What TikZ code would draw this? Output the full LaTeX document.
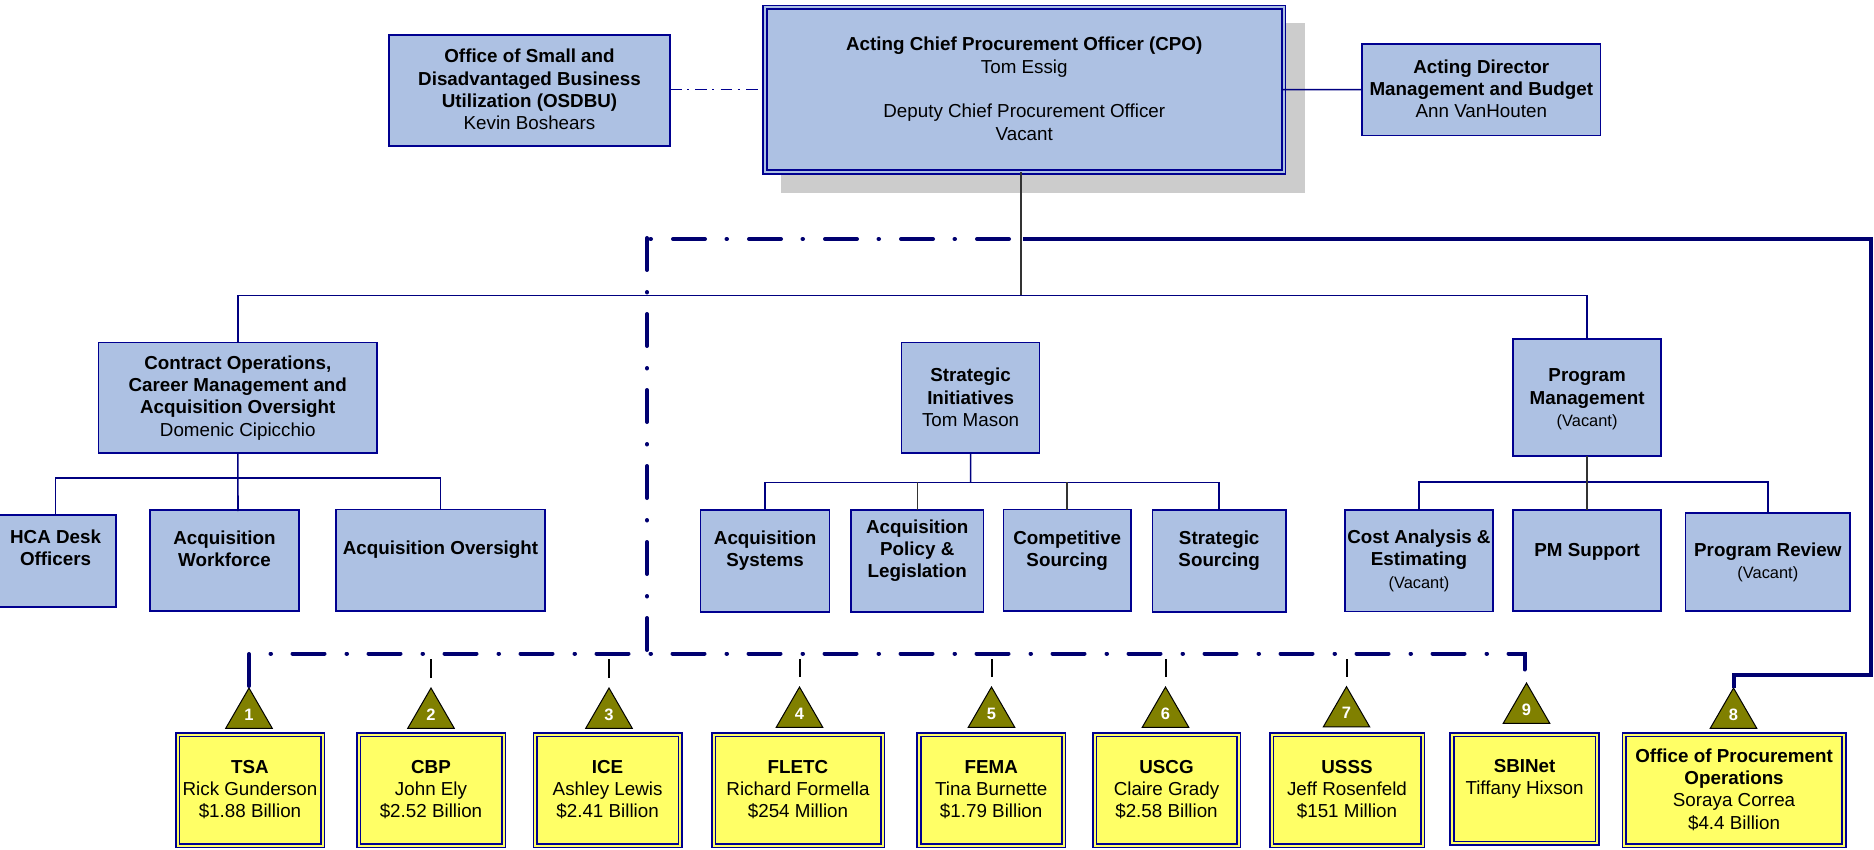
\documentclass[tikz,border=0pt]{standalone}
\usepackage{fontspec}
\setmainfont{Liberation Sans}
\usetikzlibrary{shapes.geometric,calc}
\definecolor{boxblue}{HTML}{ADC1E3}
\definecolor{boxline}{HTML}{000090}
\definecolor{navyline}{HTML}{000080}
\definecolor{thicknavy}{HTML}{000070}
\definecolor{boxyellow}{HTML}{FFFF66}
\definecolor{triolive}{HTML}{808000}
\definecolor{shadowgrey}{HTML}{CCCCCC}
\tikzset{
  bluebox/.style={draw=boxline,line width=1.5pt,fill=boxblue,inner sep=0pt,outer sep=0pt,align=center,font=\bodyfont},
  cpobox/.style={draw=boxline,line width=1.6pt,double=boxblue,double distance=2pt,fill=boxblue,inner sep=0pt,outer sep=0pt,align=center,font=\bodyfont},
  yelbox/.style={draw=boxline,line width=1.6pt,double=boxyellow,double distance=2pt,fill=boxyellow,inner sep=0pt,outer sep=0pt,align=center,font=\bodyfont},
  tribox/.style={regular polygon,regular polygon sides=3,minimum size=53.7pt,inner sep=0pt,outer sep=0pt,draw=black,line width=1pt,fill=triolive,text=white,font=\trifont},
  conn/.style={draw=navyline,line width=1.6pt},
  connblack/.style={draw=black!80,line width=1.5pt},
  thickline/.style={draw=thicknavy,line width=4pt},
  thickdd/.style={thickline,line cap=round,dash pattern=on 32pt off 22pt on 0.5pt off 21.5pt},
  thindd/.style={draw=boxline,line width=1.5pt,dash pattern=on 11.7pt off 5.3pt on 2pt off 6.3pt},
  ticker/.style={draw=black,line width=2pt},
}
\newcommand{\bodyfont}{\fontsize{18.8pt}{22.3pt}\selectfont}
\newcommand{\smallvac}{\fontsize{16.4pt}{22.3pt}\selectfont}
\newcommand{\trifont}{\fontsize{16.5pt}{18pt}\selectfont\bfseries}
\newcommand{\pdn}[1]{\rule[-#1pt]{0pt}{0pt}}
\newcommand{\bx}[6]{\node[#1,minimum width={#4-#2},minimum height={#5-#3}] (#6) at ({(#2+#4)/2},{(#3+#5)/2})}
\newcommand{\trinum}[1]{\raisebox{1pt}{#1}}
\begin{document}
\begin{tikzpicture}[x=1pt,y=-1pt]
\useasboundingbox (0,0) rectangle (1874,850);
% shadow
\fill[shadowgrey] (780.5,23.5) rectangle (1304.7,193);
% top row
\bx{bluebox}{388.9}{34.9}{670.1}{146.1}{osdbu} {\textbf{Office of Small and}\\\textbf{Disadvantaged Business}\\\textbf{Utilization (OSDBU)}\\Kevin Boshears\pdn{2}};
\bx{cpobox}{765}{7.5}{1283.5}{172}{cpo} {\textbf{Acting Chief Procurement Officer (CPO)}\\Tom Essig\\\mbox{}\\Deputy Chief Procurement Officer\\Vacant\pdn{2}};
\bx{bluebox}{1362.2}{43.9}{1600.4}{135.4}{mgmt} {\textbf{Acting Director}\\\textbf{Management and Budget}\\Ann VanHouten\pdn{2}};
% second row
\bx{bluebox}{98.5}{342.6}{377.1}{452.8}{contract} {\textbf{Contract Operations,}\\\textbf{Career Management and}\\\textbf{Acquisition Oversight}\\Domenic Cipicchio};
\bx{bluebox}{901.7}{342.6}{1039.5}{453.1}{strategic} {\textbf{Strategic}\\\textbf{Initiatives}\\Tom Mason\pdn{1}};
\bx{bluebox}{1513.1}{338.9}{1661.1}{455.8}{prog} {\rule{0pt}{17pt}\textbf{Program}\\\textbf{Management}\\{\smallvac (Vacant)}};
% third row
\bx{bluebox}{-4.6}{514.9}{115.8}{607.1}{hca} {\textbf{HCA Desk}\\\textbf{Officers}\pdn{26}};
\bx{bluebox}{149.9}{509.9}{299.1}{611.1}{workforce} {\textbf{Acquisition}\\\textbf{Workforce}\pdn{24}};
\bx{bluebox}{335.9}{509.6}{545.1}{610.8}{oversight} {\textbf{Acquisition Oversight}\pdn{25}};
\bx{bluebox}{700.5}{510.2}{829.7}{611.8}{acqsys} {\textbf{Acquisition}\\\textbf{Systems}\pdn{24}};
\bx{bluebox}{850.9}{510.2}{983.6}{611.8}{policy} {\textbf{Acquisition}\\\textbf{Policy \&}\\\textbf{Legislation}\pdn{25}};
\bx{bluebox}{1003.3}{509.6}{1131.1}{611.1}{compet} {\textbf{Competitive}\\\textbf{Sourcing}\pdn{23}};
\bx{bluebox}{1152.3}{510.2}{1286.1}{611.8}{ssrc} {\textbf{Strategic}\\\textbf{Sourcing}\pdn{25}};
\bx{bluebox}{1344.9}{509.9}{1493}{611.4}{cost} {\textbf{Cost Analysis \&}\\\textbf{Estimating}\\{\smallvac (Vacant)}};
\bx{bluebox}{1513.1}{509.9}{1661.1}{611.1}{pmsup} {\textbf{PM Support}\pdn{22}};
\bx{bluebox}{1685.6}{513.2}{1850.1}{611.1}{review} {\textbf{Program Review}\\{\smallvac (Vacant)}};
% yellow row
\bx{yelbox}{177.5}{734.5}{322.5}{845.5}{tsa} {\textbf{TSA}\\Rick Gunderson\\\$1.88 Billion\pdn{2}};
\bx{yelbox}{358.5}{734.5}{503.5}{845.5}{cbp} {\textbf{CBP}\\John Ely\\\$2.52 Billion\pdn{2}};
\bx{yelbox}{535.1}{734.5}{680.1}{845.5}{ice} {\textbf{ICE}\\Ashley Lewis\\\$2.41 Billion\pdn{2}};
\bx{yelbox}{713.5}{734.5}{882.5}{845.5}{fletc} {\textbf{FLETC}\\Richard Formella\\\$254 Million\pdn{2}};
\bx{yelbox}{918.9}{734.5}{1063.5}{845.5}{fema} {\textbf{FEMA}\\Tina Burnette\\\$1.79 Billion\pdn{2}};
\bx{yelbox}{1094.5}{734.5}{1238.5}{845.5}{uscg} {\textbf{USCG}\\Claire Grady\\\$2.58 Billion\pdn{2}};
\bx{yelbox}{1271.5}{734.5}{1422.5}{845.5}{usss} {\textbf{USSS}\\Jeff Rosenfeld\\\$151 Million\pdn{2}};
\bx{yelbox}{1452}{734.5}{1597.1}{843.2}{sbinet} {\textbf{SBINet}\\Tiffany Hixson\pdn{24}};
\bx{yelbox}{1624.1}{734.5}{1844}{845.5}{opo} {\textbf{Office of Procurement}\\\textbf{Operations}\\Soraya Correa\\\$4.4 Billion\pdn{2}};
% triangles
\node[tribox] (t1) at (249,714.85) {\trinum{1}};
\node[tribox] (t2) at (431,714.85) {\trinum{2}};
\node[tribox] (t3) at (609,714.85) {\trinum{3}};
\node[tribox] (t4) at (799.5,713.85) {\trinum{4}};
\node[tribox] (t5) at (991.5,713.85) {\trinum{5}};
\node[tribox] (t6) at (1165.5,713.85) {\trinum{6}};
\node[tribox] (t7) at (1346.5,713.55) {\trinum{7}};
\node[tribox] (t9) at (1526.5,709.85) {\trinum{9}};
\node[tribox] (t8) at (1733.5,714.85) {\trinum{8}};
% junction coordinates
\coordinate (busTop) at (1021,295.7);
\coordinate (busA) at (238,477.7);
\coordinate (busB) at (970.6,482.3);
\coordinate (busC) at (1587,481.7);
\coordinate (wfEnd) at (238,511);
\coordinate (lowL) at (249,653.5);
\coordinate (lowR) at (1524.5,653.5);
\coordinate (nineEnd) at (1524.5,671);
\coordinate (ddStart) at (1009,239);
\coordinate (ddEnd) at (649,239);
\coordinate (vTop) at (647,238);
\coordinate (vBot) at (647,650);
\coordinate (solidStart) at (1023,239);
\coordinate (rightBot) at (1871,674.5);
\coordinate (cpoEast) at (1281.7,89.7);
\coordinate (osdbuEnd) at (759,89.7);
% connectors
\draw[thindd] (osdbu.east |- osdbuEnd) -- (osdbuEnd);
\draw[conn] (mgmt.west) -- (cpoEast);
\draw[connblack] (cpo.south -| busTop) -- (busTop);
\draw[conn] (contract.north) |- (busTop) -| (prog.north);
\draw[conn] (hca.north) |- (busA) -| (oversight.north);
\draw[conn] (contract.south) -- (wfEnd);
\draw[conn] (acqsys.north) |- (busB) -| (ssrc.north);
\draw[conn] (strategic.south) -- (busB);
\draw[connblack] (policy.north |- busB) -- (policy.north);
\draw[connblack] (compet.north |- busB) -- (compet.north);
\draw[conn] (cost.north) |- (busC) -| (review.north);
\draw[connblack] (prog.south) -- (pmsup.north);
% dash-dot lines
\draw[thickdd] (ddStart) -- (ddEnd);
\draw[thickdd] (vTop) -- (vBot);
\draw[thickdd,shorten <=2pt] (t1.corner 1) |- (lowR) -- (nineEnd);
\draw[thickline] (solidStart) -| (rightBot) -| (t8.corner 1);
% ticks
\foreach \t in {t2,t3,t4,t5,t6,t7}
  \draw[ticker,shorten <=10pt,shorten >=5.5pt] (\t.corner 1) -- (\t.corner 1 |- lowL);
\end{tikzpicture}
\end{document}
